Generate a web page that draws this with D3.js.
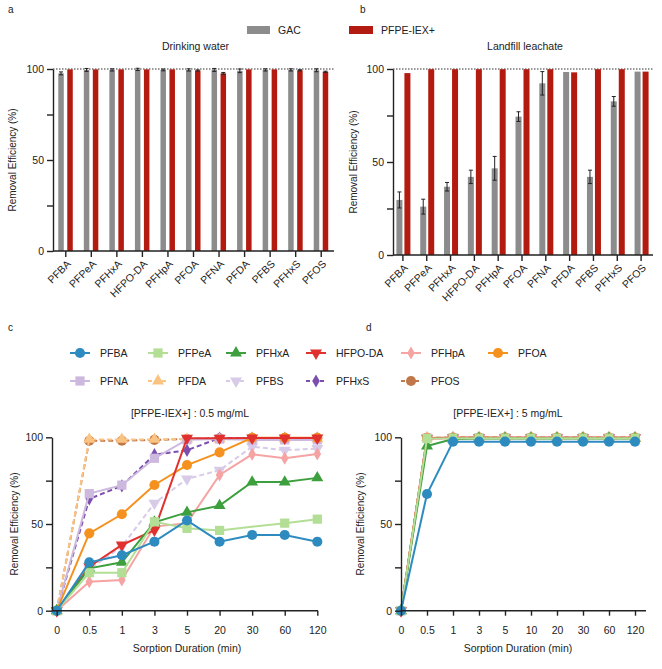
<!DOCTYPE html>
<html><head><meta charset="utf-8">
<script src="https://cdn.jsdelivr.net/npm/d3@7"></script>
<style>body{margin:0;background:#fff}text{font-family:"Liberation Sans",Arial,Helvetica,sans-serif;fill:#222}</style>
</head><body><svg id="c" width="662" height="669"></svg>
<script>
// ---------- data ----------
const compounds = ["PFBA","PFPeA","PFHxA","HFPO-DA","PFHpA","PFOA","PFNA","PFDA","PFBS","PFHxS","PFOS"];
// a: drinking water
const dwGAC    = [97.6, 99.5, 99.5, 99.8, 99.5, 99.5, 99.5, 99.0, 99.5, 99.5, 99.3];
const dwGACErr = [0.8, 0.8, 0.6, 0.6, 0.5, 0.6, 0.8, 1.0, 0.6, 0.6, 0.8];
const dwIEX    = [99.8, 99.8, 99.8, 99.8, 99.8, 99.2, 97.6, 99.8, 99.8, 99.3, 98.5];
const dwIEXErr = [0, 0, 0, 0, 0, 0.3, 0.5, 0, 0, 0.3, 0.3];
// b: landfill leachate
const llGAC    = [29.6, 26.0, 36.7, 42.0, 46.6, 74.4, 92.3, 98.4, 42.0, 82.6, 98.6];
const llGACErr = [4.3, 4.0, 2.3, 3.6, 6.4, 2.6, 6.3, 0, 3.6, 2.6, 0];
const llIEX    = [97.8, 99.9, 99.9, 99.9, 99.9, 99.9, 99.9, 98.2, 99.9, 99.9, 98.6];
const llIEXErr = [0, 0, 0, 0, 0, 0, 0, 0, 0, 0, 0];
// c: 0.5 mg/mL kinetics
const timesC = ["0","0.5","1","3","5","20","30","60","120"];
const cPFBA   = [0, 27.9, 32.0, 39.8, 52.0, 39.8, 43.7, 43.7, 39.8];
const cPFPeA  = [0, 21.9, 21.9, 51.3, 47.5, 46.3, null, 50.5, 52.8];
const cPFHxA  = [0, 24.4, 27.9, 51.0, 56.7, 60.6, 74.2, 74.2, 76.6];
const cHFPODA = [0, 25.4, 37.9, 46.5, 99.5, 99.5, 99.6, 99.6, 99.6];
const cPFHpA  = [0, 16.7, 17.7, 48.5, 50.5, 78.3, 90.2, 87.9, 90.4];
const cPFOA   = [0, 44.6, 55.6, 72.5, 84.0, 91.3, 99.7, 99.7, 99.7];
const cPFNA   = [0, 67.5, 72.4, 87.9, 98.6, 99.0, 98.5, 98.5, 98.5];
const cPFDA   = [0, 98.8, 98.8, 98.8, 99.0, 99.0, 99.2, 99.2, 99.2];
const cPFBS   = [0, 24.0, 37.0, 62.0, 76.0, 81.0, 94.6, 92.6, 93.5];
const cPFHxS  = [0, 64.5, 72.0, 90.0, 92.5, 99.6, 99.6, 99.6, 99.6];
const cPFOS   = [0, 98.0, 98.0, 98.5, 99.0, 99.4, 99.6, 99.6, 99.6];
// d: 5 mg/mL kinetics
const timesD = ["0","0.5","1","3","5","10","20","30","60","120"];
const dPFBA   = [0, 67.3, 97.5, 97.5, 97.5, 97.5, 97.5, 97.5, 97.5, 97.5];
const dPFPeA  = [0, 99.3, 99.5, 99.5, 99.5, 99.5, 99.5, 99.5, 99.5, 99.5];
const dPFHxA  = [0, 95.0, 99.0, 99.3, 99.3, 99.3, 99.3, 99.3, 99.3, 99.3];
const dHFPODA = [0, 99.5, 99.7, 99.7, 99.7, 99.7, 99.7, 99.7, 99.7, 99.7];
const dPFHpA  = [0, 99.0, 99.5, 99.5, 99.5, 99.5, 99.5, 99.5, 99.5, 99.5];
const dPFOA   = [0, 99.6, 99.7, 99.7, 99.7, 99.7, 99.7, 99.7, 99.7, 99.7];
const dPFNA   = [0, 99.6, 99.7, 99.7, 99.7, 99.7, 99.7, 99.7, 99.7, 99.7];
const dPFDA   = [0, 99.7, 99.8, 99.8, 99.8, 99.8, 99.8, 99.8, 99.8, 99.8];
const dPFBS   = [0, 99.2, 99.5, 99.5, 99.5, 99.5, 99.5, 99.5, 99.5, 99.5];
const dPFHxS  = [0, 99.6, 99.7, 99.7, 99.7, 99.7, 99.7, 99.7, 99.7, 99.7];
const dPFOS   = [0, 99.7, 99.8, 99.8, 99.8, 99.8, 99.8, 99.8, 99.8, 99.8];

// ---------- styles ----------
const seriesColors = ["#2e8bc0","#b3de95","#3d9f3d","#e0312e","#f5a3a3","#f5921f","#cdb8de","#fbc382","#d7cbe8","#7c4fae","#c0784a"];
const seriesShapes = ["circle","square","triangle","down","diamond","circle","square","triangle","down","diamond","circle"];
const seriesDashed = [false,false,false,false,false,false,false,true,true,true,true];
const gacColor = "#8c8c8c", iexColor = "#b31b10";
const seriesC = [cPFBA,cPFPeA,cPFHxA,cHFPODA,cPFHpA,cPFOA,cPFNA,cPFDA,cPFBS,cPFHxS,cPFOS];
const seriesD = [dPFBA,dPFPeA,dPFHxA,dHFPODA,dPFHpA,dPFOA,dPFNA,dPFDA,dPFBS,dPFHxS,dPFOS];

const svg = d3.select("#c");
const FS = 10.5;

function label(x,y,t,opt={}){
  const e = svg.append("text").attr("x",x).attr("y",y).text(t)
    .style("font-size",(opt.size||FS)+"px").attr("text-anchor",opt.anchor||"middle");
  if(opt.rot) e.attr("transform",`rotate(${opt.rot},${x},${y})`);
  return e;
}
function styleAxis(g){
  g.selectAll("path,line").attr("stroke","#222").attr("stroke-width",1.4);
  g.selectAll("text").style("font-size",FS+"px").attr("fill","#222");
}

// ---------- bar panels ----------
function barPanel(o){
  const x = d3.scaleBand().domain(compounds).range([o.x0,o.x1]);
  const y = d3.scaleLinear().domain([0,100]).range([o.yb,o.yt]);
  const g = svg.append("g");
  const cx = c => x(c)+x.bandwidth()/2;
  g.append("line").attr("x1",o.ax).attr("x2",o.x1).attr("y1",y(100)).attr("y2",y(100))
    .attr("stroke","#333").attr("stroke-width",1.1).attr("stroke-dasharray","1.5,1.5");
  const bw = o.bw;
  g.selectAll(".gb").data(compounds).join("rect")
    .attr("x",c=>cx(c)+o.gOff).attr("width",bw)
    .attr("y",(c,i)=>y(o.gac[i])).attr("height",(c,i)=>y(0)-y(o.gac[i])).attr("fill",gacColor);
  g.selectAll(".rb").data(compounds).join("rect")
    .attr("x",c=>cx(c)+o.rOff).attr("width",bw)
    .attr("y",(c,i)=>y(o.iex[i])).attr("height",(c,i)=>y(0)-y(o.iex[i])).attr("fill",iexColor);
  function errs(vals, errsA, off){
    compounds.forEach((c,i)=>{
      if(!errsA[i]) return;
      const xm = cx(c)+off+bw/2;
      const y1 = y(Math.min(100.5,vals[i]+errsA[i])), y2 = y(vals[i]-errsA[i]);
      g.append("line").attr("x1",xm).attr("x2",xm).attr("y1",y1).attr("y2",y2).attr("stroke","#222").attr("stroke-width",1);
      g.append("line").attr("x1",xm-2).attr("x2",xm+2).attr("y1",y1).attr("y2",y1).attr("stroke","#222").attr("stroke-width",1);
      g.append("line").attr("x1",xm-2).attr("x2",xm+2).attr("y1",y2).attr("y2",y2).attr("stroke","#222").attr("stroke-width",1);
    });
  }
  errs(o.gac,o.gacErr,o.gOff); errs(o.iex,o.iexErr,o.rOff);
  const ya = svg.append("g").attr("transform",`translate(${o.ax},0)`)
    .call(d3.axisLeft(y).tickValues([0,25,50,75,100]).tickFormat(d=>d%50===0?d:"").tickSize(6).tickSizeOuter(0).tickPadding(3));
  styleAxis(ya);
  const xa = svg.append("g").attr("transform",`translate(0,${o.yb})`)
    .call(d3.axisBottom(x).tickSize(6).tickSizeOuter(0));
  xa.select(".domain").attr("d",`M${o.ax},0H${o.x1}`);
  styleAxis(xa);
  xa.selectAll("text").attr("y",0).attr("dy","0.35em").attr("x",0)
    .attr("transform","translate(3,11) rotate(-45)").style("text-anchor","end");
  label((o.ax+o.x1)/2+2, 50, o.title);
  label(o.ylx,(o.yt+o.yb)/2,"Removal Efficiency (%)",{rot:-90,size:10});
}
barPanel({x0:53,x1:334,ax:53,yt:69,yb:251,gac:dwGAC,gacErr:dwGACErr,iex:dwIEX,iexErr:dwIEXErr,
  bw:5.5,gOff:-7.5,rOff:1.5,title:"Drinking water",ylx:16});
barPanel({x0:391,x1:653,ax:393,yt:69,yb:255,gac:llGAC,gacErr:llGACErr,iex:llIEX,iexErr:llIEXErr,
  bw:6,gOff:-6.5,rOff:1.5,title:"Landfill leachate",ylx:357});

svg.append("rect").attr("x",247).attr("y",26).attr("width",23).attr("height",8).attr("fill",gacColor);
label(278,34,"GAC",{anchor:"start"});
svg.append("rect").attr("x",349).attr("y",26).attr("width",24).attr("height",8).attr("fill",iexColor);
label(381,34,"PFPE-IEX+",{anchor:"start"});

label(8,13,"a",{anchor:"start",size:10});
label(360,13,"b",{anchor:"start",size:10});
label(8,331,"c",{anchor:"start",size:10});
label(366,331,"d",{anchor:"start",size:10});

// ---------- markers ----------
function sym(shape){
  const map = {circle:[d3.symbolCircle,80],square:[d3.symbolSquare,85],triangle:[d3.symbolTriangle,62],
    down:[d3.symbolTriangle,62],diamond:[d3.symbolDiamond,50]};
  return d3.symbol().type(map[shape][0]).size(map[shape][1])();
}
function marker(g,shape,x,y,color){
  g.append("path").attr("d",sym(shape)).attr("fill",color)
    .attr("transform",`translate(${x},${y})`+(shape==="down"?" rotate(180)":""));
}

// ---------- line panels ----------
function linePanel(o){
  const x = d3.scalePoint().domain(o.times).range([o.px0,o.px1]);
  const y = d3.scaleLinear().domain([0,100]).range([o.yb,o.yt]);
  const g = svg.append("g");
  for(let s=compounds.length-1;s>=0;s--){
    const pts = o.times.map((t,i)=>[t,o.series[s][i]]).filter(p=>p[1]!=null);
    const line = d3.line().x(p=>x(p[0])).y(p=>y(p[1]));
    g.append("path").attr("d",line(pts)).attr("fill","none").attr("stroke",seriesColors[s])
      .attr("stroke-width",2).attr("stroke-dasharray",seriesDashed[s]?"5,3":null);
    pts.forEach(p=>marker(g,seriesShapes[s],x(p[0]),y(p[1]),seriesColors[s]));
  }
  const ya = svg.append("g").attr("transform",`translate(${o.ax},0)`)
    .call(d3.axisLeft(y).tickValues([0,25,50,75,100]).tickFormat(d=>d%50===0?d:"").tickSize(6).tickSizeOuter(0).tickPadding(3));
  styleAxis(ya);
  const xa = svg.append("g").attr("transform",`translate(0,${o.yb})`)
    .call(d3.axisBottom(x).tickSize(5).tickSizeOuter(0).tickPadding(11));
  xa.select(".domain").attr("d",`M${o.ax},0H${o.xe}`);
  styleAxis(xa);
  label(o.tx,417,o.title);
  label(o.lx,652,"Sorption Duration (min)");
  label(o.ylx,(o.yt+o.yb)/2,"Removal Efficiency (%)",{rot:-90,size:10});
}
linePanel({times:timesC,series:seriesC,px0:56.7,px1:317.3,ax:52,xe:318,yt:437.3,yb:610.7,
  title:"[PFPE-IEX+] :  0.5 mg/mL",tx:190,lx:187,ylx:18});
linePanel({times:timesD,series:seriesD,px0:401,px1:635,ax:401,xe:646,yt:437.3,yb:610.7,
  title:"[PFPE-IEX+] :  5 mg/mL",tx:508,lx:518,ylx:364});

// ---------- line legend ----------
const legX = [100,178,256,336,431,518];
compounds.forEach((c,i)=>{
  const col = i%6, row = Math.floor(i/6);
  const tx = legX[col], yy = row? 381 : 353;
  const g = svg.append("g");
  g.append("line").attr("x1",tx-30).attr("x2",tx-10).attr("y1",yy).attr("y2",yy)
    .attr("stroke",seriesColors[i]).attr("stroke-width",2).attr("stroke-dasharray",seriesDashed[i]?"4,3":null);
  marker(g,seriesShapes[i],tx-20,yy,seriesColors[i]);
  label(tx,yy+4,c,{anchor:"start"});
});
</script></body></html>
